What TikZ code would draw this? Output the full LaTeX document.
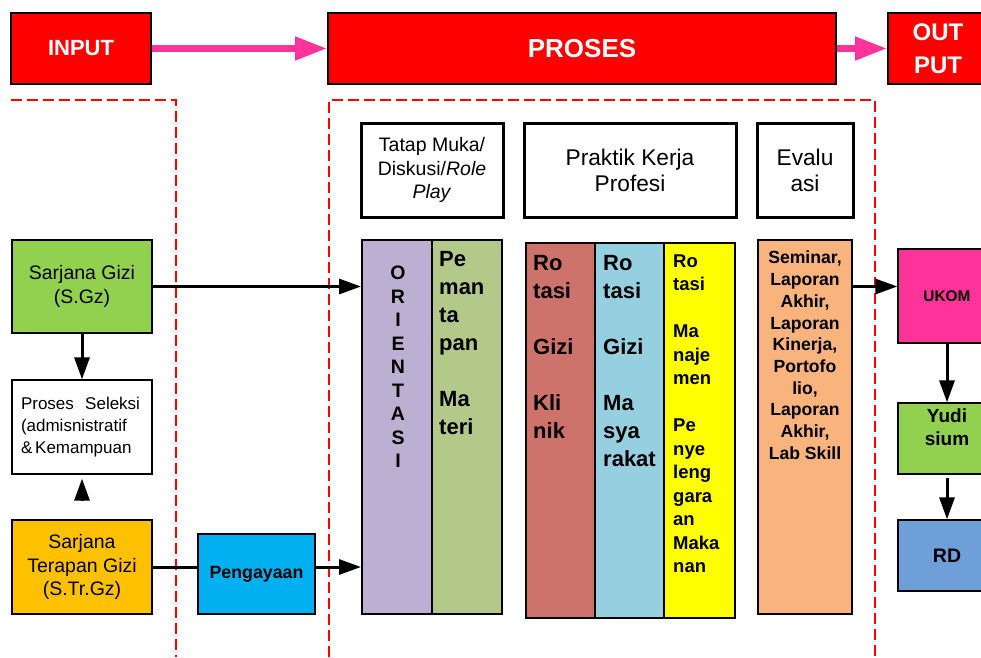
\documentclass[tikz,border=0pt]{standalone}
\usepackage{fontspec}
\setmainfont{Liberation Sans}
\usepackage{xcolor}
\usepackage{tikz}
\usetikzlibrary{arrows.meta,positioning}
\definecolor{hdred}{HTML}{FF0000}
\definecolor{pink}{HTML}{FF3399}
\definecolor{sgzgreen}{HTML}{92D050}
\definecolor{strorange}{HTML}{FFC000}
\definecolor{pengcyan}{HTML}{00B0F0}
\definecolor{oripurple}{HTML}{BCB0D2}
\definecolor{pemgreen}{HTML}{B3C98A}
\definecolor{klinik}{HTML}{CD736B}
\definecolor{masy}{HTML}{96CFDF}
\definecolor{manaj}{HTML}{FFFF00}
\definecolor{evalpeach}{HTML}{F8B47C}
\definecolor{ukompink}{HTML}{FF3399}
\definecolor{rdblue}{HTML}{6F9FD8}
\tikzset{
  headbox/.style={draw=black, line width=1.6pt, fill=hdred, text=white, inner sep=0pt, font=\bfseries\fontsize{22}{26}\selectfont},
  plainbox/.style={draw=black, line width=1.3pt, inner sep=0pt, align=center, font=\fontsize{19.5}{23.5}\selectfont},
  titlebox/.style={draw=black, line width=3pt, fill=white, inner sep=0pt, align=center},
  colbox/.style={draw=black, line width=2pt, inner sep=0pt},
  coltext/.style={inner sep=0pt, align=left, font=\bfseries\fontsize{22}{28}\selectfont},
  arr/.style={draw=black, line width=3pt, -{Triangle[length=22pt,width=15pt]}},
  pinkarr/.style={draw=pink, line width=7pt, -{Triangle[length=32pt,width=22pt]}},
  dashedline/.style={draw=red, line width=1.5pt, dash pattern=on 11pt off 5pt}
}
\begin{document}
\begin{tikzpicture}[x=1pt, y=-1pt]
  \useasboundingbox (0,0) rectangle (981,657);

  % dashed frames
  \draw[dashedline] (11,100) -- (176,100) -- (176,657);
  \draw[dashedline] (329,657) -- (329,100) -- (875,100) -- (875,657);

  % header row
  \node[headbox, minimum width=140pt, minimum height=71pt] (input) at (81,48.5) {INPUT};
  \node[headbox, minimum width=508pt, minimum height=71pt, font=\bfseries\fontsize{26}{30}\selectfont] (proses) at (582,48.5) {PROSES};
  \node[headbox, minimum width=100pt, minimum height=71pt, align=center, font=\bfseries\fontsize{24}{33}\selectfont] (output) at (938,48.5) {OUT\\PUT};
  \draw[pinkarr] (input) -- (proses);
  \draw[pinkarr] (proses) -- (output);

  % input
  \node[plainbox, fill=sgzgreen, minimum width=140pt, minimum height=93pt] (sgz) at (82,286.5) {Sarjana Gizi\\(S.Gz)};
  \node[plainbox, fill=white, minimum width=140pt, minimum height=94pt, text width=122pt, align=left, font=\fontsize{17}{21.7}\selectfont] (seleksi) at (82,427) {Proses\ \ Seleksi\\(admisnistratif\\\&\,Kemampuan};
  \node[plainbox, fill=strorange, minimum width=140pt, minimum height=94pt] (strgz) at (82,567) {Sarjana\\Terapan Gizi\\(S.Tr.Gz)};
  \node[plainbox, fill=pengcyan, line width=2pt, minimum width=117pt, minimum height=80pt, font=\bfseries\fontsize{17.8}{20}\selectfont] (peng) at (256.5,574) {Pengayaan};

  % proses
  \node[titlebox, minimum width=142pt, minimum height=94pt, font=\fontsize{19.5}{23.5}\selectfont] (tatap) at (432,170) {Tatap Muka/\\Diskusi/\textit{Role}\\\textit{Play}};
  \node[titlebox, minimum width=212pt, minimum height=94pt, font=\fontsize{22.7}{26}\selectfont] (pkp) at (630,170) {Praktik Kerja\\Profesi};
  \node[titlebox, minimum width=96pt, minimum height=94pt, font=\fontsize{22.7}{26}\selectfont] (evalu) at (805,170) {Evalu\\asi};

  \node[colbox, fill=oripurple, minimum width=70pt, minimum height=374pt] (ori) at (397,427) {};
  \node[colbox, fill=pemgreen, minimum width=70pt, minimum height=374pt] (pem) at (467,427) {};
  \node[colbox, line width=2.5pt, fill=klinik, minimum width=69pt, minimum height=375pt] (klinik) at (560.5,430.5) {};
  \node[colbox, line width=2.5pt, fill=masy, minimum width=69pt, minimum height=375pt] (masy) at (629.5,430.5) {};
  \node[colbox, line width=2.5pt, fill=manaj, minimum width=71pt, minimum height=375pt] (manaj) at (699.5,430.5) {};
  \node[colbox, fill=evalpeach, minimum width=94pt, minimum height=374pt] (eval) at (805,427) {};

  \node[coltext, anchor=north, align=center, font=\bfseries\fontsize{19.5}{23.5}\selectfont] (oritext) at (398,266) {O\\R\\I\\E\\N\\T\\A\\S\\I};
  \node[coltext, anchor=north west] (pemtext) at (439,251) {Pe\\man\\ta\\pan\\[28pt]Ma\\teri};
  \node[coltext, anchor=north west] (kliniktext) at (533,255) {Ro\\tasi\\[28pt]Gizi\\[28pt]Kli\\nik};
  \node[coltext, anchor=north west] (masytext) at (603,255) {Ro\\tasi\\[28pt]Gizi\\[28pt]Ma\\sya\\rakat};
  \node[coltext, anchor=north west, font=\bfseries\fontsize{18.5}{23.5}\selectfont] (manajtext) at (673,254.5) {Ro\\tasi\\[23.5pt]Ma\\naje\\men\\[23.5pt]Pe\\nye\\leng\\gara\\an\\Maka\\nan};
  \node[coltext, anchor=north, align=center, font=\bfseries\fontsize{17.6}{21.7}\selectfont] (evaltext) at (805,251) {Seminar,\\Laporan\\Akhir,\\Laporan\\Kinerja,\\Portofo\\lio,\\Laporan\\Akhir,\\Lab Skill};

  % output
  \node[plainbox, fill=ukompink, minimum width=98pt, minimum height=94pt, font=\bfseries\fontsize{15.4}{18}\selectfont] (ukom) at (947,296) {UKOM};
  \node[plainbox, fill=sgzgreen, minimum width=98pt, minimum height=71pt] (yudisium) at (947,438.5) {};
  \node[coltext, anchor=north, align=center, font=\bfseries\fontsize{19}{23}\selectfont] (yudtext) at (947,409) {Yudi\\sium};
  \node[plainbox, fill=rdblue, minimum width=98pt, minimum height=71pt, font=\bfseries\fontsize{19.5}{23}\selectfont] (rd) at (947,555.5) {RD};

  % connectors
  \draw[arr] (sgz.east) -- (sgz.east -| ori.west);
  \draw[arr] (sgz) -- (seleksi);
  \draw[arr, shorten >=4pt, shorten <=19pt] (strgz) -- (seleksi);
  \draw[line width=3pt] (strgz.east) -- (strgz.east -| peng.west);
  \draw[arr] (peng.east |- strgz.east) -- (strgz.east -| ori.west);
  \draw[arr] (eval.east |- sgz.east) -- (sgz.east -| ukom.west);
  \draw[arr] (ukom) -- (yudisium);
  \draw[arr, shorten <=3pt] (yudisium) -- (rd);
\end{tikzpicture}
\end{document}
